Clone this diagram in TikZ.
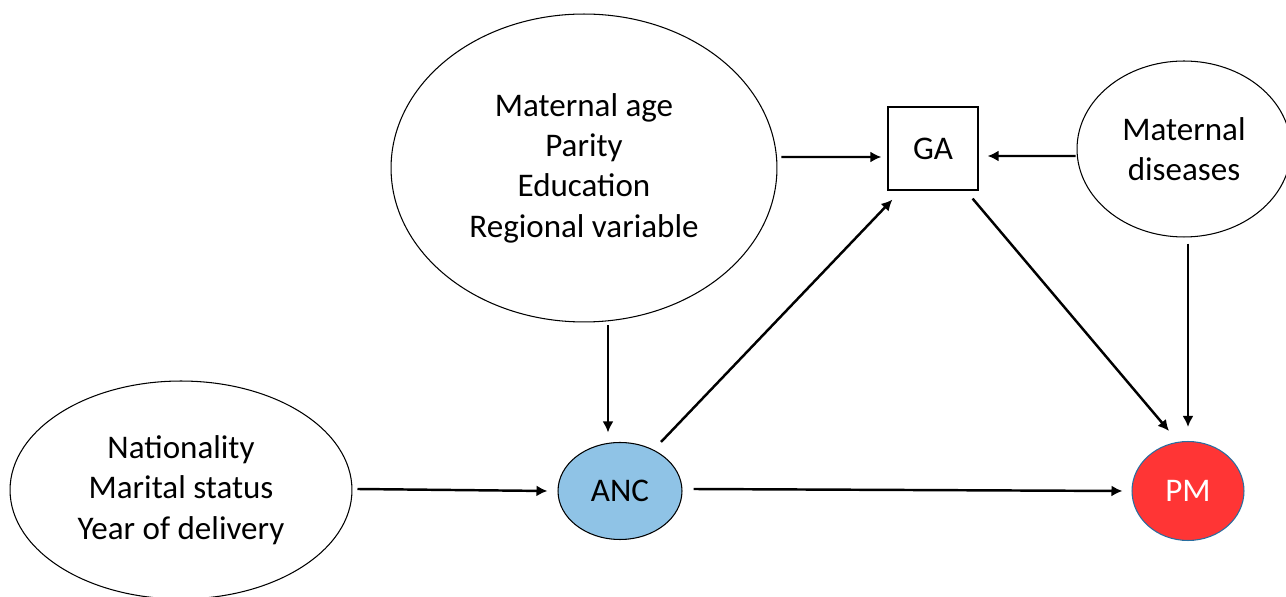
\documentclass[tikz,border=0pt]{standalone}
\usepackage{fontspec}
\setmainfont{Carlito}
\usetikzlibrary{arrows.meta,calc,shapes.geometric}
\definecolor{ancblue}{RGB}{143,195,230}
\definecolor{pmred}{RGB}{255,53,53}
\definecolor{pmrim}{RGB}{40,110,160}

\begin{document}
\begin{tikzpicture}[
  x=0.02cm, y=-0.02cm,
  > = {Latex[length=2.2mm,width=2.2mm]},
  every node/.style = {font=\fontsize{18.8}{23}\selectfont, align=center, inner sep=0pt},
  oval/.style = {draw, ellipse, line width=0.6pt},
  gabox/.style = {draw, rectangle, line width=0.7pt, minimum width=1.8cm, minimum height=1.66cm},
  link/.style = {->, line width=1.4pt}
  ]
	\useasboundingbox (0,0) rectangle (1286,597);

	% confounders
	\node[oval, minimum width=7.72cm, minimum height=6.16cm] (covA) at (584,168)
		{Maternal age\\Parity\\Education\\Regional variable};
	\node[oval, minimum width=6.84cm, minimum height=4.36cm] (covB) at (181,490)
		{Nationality\\Marital status\\Year of delivery};
	\node[oval, minimum width=4.28cm, minimum height=3.52cm] (dis) at (1184,149)
		{Maternal\\diseases};

	% exposure, mediator, outcome
	\node[gabox] (ga) at (933,148.5) {GA};
	\node[oval, fill=ancblue, minimum width=2.48cm, minimum height=1.94cm] (anc) at (620,491) {ANC};
	\node[oval, fill=pmred, draw=pmrim, text=white, minimum width=2.24cm, minimum height=1.98cm] (pm) at (1188,491) {PM};

	\draw[link] ($(covA.east)+(4,-11)$) -- ($(ga.west)+(-6,8.5)$);
	\draw[link] ($(dis.west)+(-1,7)$) -- ($(ga.east)+(9,7.5)$);
	\draw[link] ($(covA.south)+(24,3)$) -- ($(anc.north)+(-12,-9.5)$);
	\draw[link] ($(covB.east)+(5,-1)$) -- ($(anc.west)+(-10,0)$);
	\draw[link] ($(anc.east)+(11,-2)$) -- ($(pm.west)+(-9,0)$);
	\draw[link] ($(anc.north)+(41,0)$) -- ($(ga.south west)+(5,9)$);
	\draw[link] ($(ga.south east)+(-6,8)$) -- ($(pm.north)+(-19,-10)$);
	\draw[link] ($(dis.south)+(4,6)$) -- ($(pm.north)+(0,-14)$);

\end{tikzpicture}
\end{document}
